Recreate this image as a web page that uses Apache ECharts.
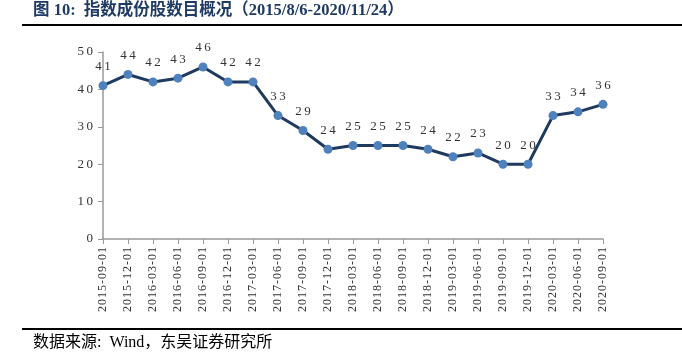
<!DOCTYPE html>
<html>
<head>
<meta charset="utf-8">
<script src="https://cdn.jsdelivr.net/npm/echarts@6/dist/echarts.min.js"></script>
<style>
  html, body { margin: 0; padding: 0; background: #fff; }
  #main { width: 682px; height: 354px; }
</style>
</head>
<body>
<div id="main"></div>
<script>
let dates = ['2015-09-01', '2015-12-01', '2016-03-01', '2016-06-01', '2016-09-01', '2016-12-01',
  '2017-03-01', '2017-06-01', '2017-09-01', '2017-12-01', '2018-03-01', '2018-06-01',
  '2018-09-01', '2018-12-01', '2019-03-01', '2019-06-01', '2019-09-01', '2019-12-01',
  '2020-03-01', '2020-06-01', '2020-09-01'];
let counts = [41, 44, 42, 43, 46, 42, 42, 33, 29, 24, 25, 25, 25, 24, 22, 23, 20, 20, 33, 34, 36];

// spread digits a little, like the original
function spaced(s) {
  return String(s).split('').join('\u2009');
}
function hair(s) {
  return String(s).split('').join('\u200a');
}

let serif = '"Liberation Serif", "Noto Sans CJK SC", serif';
let myChart = echarts.init(document.getElementById('main'));
let option = {
  animation: false,
  textStyle: { fontFamily: serif },
  grid: { left: 103, right: 79, top: 52, bottom: 115 },
  graphic: [
    {
      type: 'text', left: 33, top: 2,
      style: {
        text: '图 10:  指数成份股数目概况（2015/8/6-2020/11/24）',
        font: 'bold 16.5px ' + serif, fill: '#1f3a63'
      }
    },
    { type: 'rect', shape: { x: 22, y: 24, width: 660, height: 2 }, style: { fill: '#000' } },
    { type: 'rect', shape: { x: 22, y: 328, width: 660, height: 2 }, style: { fill: '#000' } },
    {
      type: 'text', left: 33, top: 335,
      style: { text: '数据来源:  Wind，东吴证券研究所', font: '16px ' + serif, fill: '#000' }
    }
  ],
  xAxis: {
    type: 'category',
    data: dates,
    boundaryGap: false,
    axisLine: { lineStyle: { color: '#999', width: 1.5 } },
    axisTick: { alignWithLabel: true, length: 5, lineStyle: { color: '#999' } },
    axisLabel: {
      rotate: 90, interval: 0, fontSize: 12, color: '#333', margin: 8,
      fontFamily: serif,
      formatter: hair
    }
  },
  yAxis: {
    type: 'value',
    min: 0, max: 50, interval: 10,
    splitLine: { show: false },
    axisLine: { show: true, lineStyle: { color: '#999', width: 1.5 } },
    axisTick: { show: true, length: 5, inside: false, lineStyle: { color: '#999' } },
    axisLabel: { fontSize: 13, color: '#333', margin: 10, fontFamily: serif, formatter: spaced }
  },
  series: [{
    type: 'line',
    data: counts,
    symbol: 'circle',
    symbolSize: 9,
    lineStyle: { color: '#1f3a5f', width: 3 },
    itemStyle: { color: '#4f81bd' },
    label: {
      show: true, position: 'top', distance: 8,
      fontSize: 13, color: '#333', fontFamily: serif,
      formatter: (p) => spaced(p.value)
    }
  }]
};
myChart.setOption(option);
</script>
</body>
</html>
